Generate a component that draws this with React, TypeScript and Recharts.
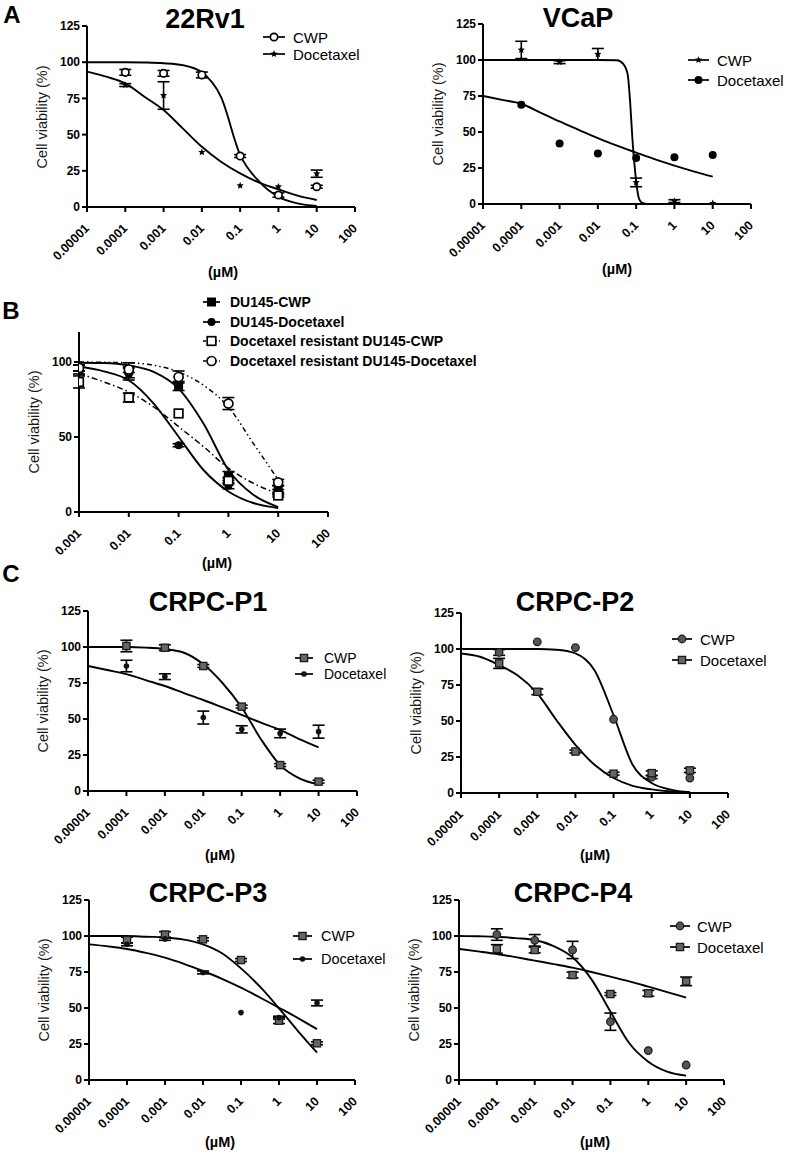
import React from "react";
import { ComposedChart, Line, Scatter, XAxis, YAxis, ErrorBar } from "recharts";

const FONT = '"Liberation Sans", Arial, Helvetica, sans-serif';

// doses (µM)
const doses = [0.0001, 0.001, 0.01, 0.1, 1, 10];
const dosesB = [0.001, 0.01, 0.1, 1, 10];
const fitX = [0.00001, 0.0000316, 0.0001, 0.000316, 0.001, 0.00316, 0.01, 0.0316, 0.1, 0.316, 1, 3.16, 10];
const fitXB = [0.001, 0.00316, 0.01, 0.0316, 0.1, 0.316, 1, 3.16, 10];
const vcapCwpFitX = [0.00001, 0.0001, 0.001, 0.01, 0.0316, 0.047, 0.06, 0.07, 0.08, 0.09, 0.1, 0.115, 0.14, 0.2, 1, 10];

const xTicks = [0.00001, 0.0001, 0.001, 0.01, 0.1, 1, 10, 100];
const xTickLabels = ["0.00001", "0.0001", "0.001", "0.01", "0.1", "1", "10", "100"];
const xTicksB = [0.001, 0.01, 0.1, 1, 10, 100];
const yTicks = [0, 25, 50, 75, 100, 125];
const yTicksB = [0, 50, 100];

// A - 22Rv1
const rv1CwpPts = [93, 92.3, 91.2, 35.2, 8.3, 14];
const rv1CwpErr = [2, 2, 2, 1, 1.5, 1];
const rv1DocPts = [84.2, 77, 37.8, 14.7, 14, 23];
const rv1DocErr = [1, 9.5, 0, 0, 0, 2.5];
const rv1CwpFit = [100, 100, 100, 99.8, 99.3, 98, 93, 76, 36, 17.5, 7, 2.5, 0.7];
const rv1DocFit = [93.5, 90, 85.4, 76.2, 67, 54.3, 41.6, 31.3, 23.2, 16.8, 12.2, 7.8, 4.8];

// A - VCaP
const vcapCwpPts = [107, 98.5, 104, 15, 2, 0.5];
const vcapCwpErr = [6, 1, 4, 3, 1, 0];
const vcapDocPts = [69, 42, 35, 32, 32.5, 34];
const vcapCwpFit = [100, 100, 100, 100, 99.8, 97, 90, 70, 45, 28, 16, 5, 1, 0, 0, 0];
const vcapDocFit = [75, 72.3, 69.6, 63.5, 57.3, 51.5, 45.7, 40.5, 35.7, 31, 26.7, 22.7, 19];

// B - DU145
const duCwpPts = [95, 94.5, 84, 24, 14.4];
const duCwpErr = [3, 5, 3, 3, 3];
const duDocPts = [96, 92, 44.5, 17.5, 14];
const duDocErr = [2, 4, 1, 2, 1];
const resCwpPts = [86.7, 76.3, 65.7, 20.8, 11];
const resCwpErr = [4, 3, 0, 2, 1];
const resDocPts = [96, 95, 90, 72.3, 19.7];
const resDocErr = [2, 2, 4, 4, 2];
const duCwpFit = [99.5, 99.3, 97.8, 93.4, 82.3, 59, 28, 11.5, 3.3];
const duDocFit = [97, 93.8, 87.8, 72.3, 50.2, 28, 13.7, 6, 2.7];
const resCwpFit = [92.3, 86.7, 80, 70, 56.9, 43.6, 29.2, 19.2, 12.2];
const resDocFit = [100, 99.8, 99.5, 97.8, 93.4, 84.5, 70, 45.8, 21.5];

// C - CRPC-P1
const p1CwpPts = [100.7, 99.5, 86.8, 58.6, 18, 6.5];
const p1CwpErr = [4, 2, 1, 1, 1, 1];
const p1DocPts = [86.8, 79.4, 51, 42.8, 40, 41.2];
const p1DocErr = [4, 2, 4.5, 2.5, 3, 4.5];
const p1CwpFit = [100, 100, 100, 99.6, 98.6, 96, 88, 75, 58, 36, 18, 8.8, 4.6];
const p1DocFit = [86.8, 84, 81.2, 77, 72.9, 68, 63.2, 58, 52.8, 47.5, 42.4, 36, 30.3];

// C - CRPC-P2
const p2CwpPts = [97.6, 105, 101, 51.2, 11, 10.4];
const p2CwpErr = [2, 0, 0, 0, 1, 0];
const p2DocPts = [90, 70.3, 28.8, 13.4, 13.8, 15.7];
const p2DocErr = [3.5, 2, 1, 1, 1.5, 1.5];
const p2CwpFit = [100, 100, 100, 100, 100, 99.5, 97, 85.3, 54, 19.6, 6.9, 2.3, 0.5];
const p2DocFit = [96.9, 94.6, 88.8, 81.4, 69.2, 50.7, 33.4, 19.6, 10.4, 5, 2.5, 1, 0.5];

// C - CRPC-P3
const p3CwpPts = [97.2, 101, 97.7, 83.3, 41.2, 25.5];
const p3CwpErr = [2, 2, 1, 1, 2, 1];
const p3DocPts = [94.2, 98, 74.7, 46.8, 43.3, 53.5];
const p3DocErr = [1, 1, 1, 0, 1, 2];
const p3CwpFit = [100, 100, 100, 99.5, 99, 97.5, 94.2, 88, 77.5, 64.8, 49.8, 34, 19];
const p3DocFit = [94.2, 92.8, 91, 88.3, 85, 80.7, 75.7, 70.3, 64.1, 57.3, 50.2, 43, 35.3];

// C - CRPC-P4
const p4CwpPts = [101, 97, 90.3, 40.5, 20.4, 10.4];
const p4CwpErr = [4, 4, 6, 6, 0, 0];
const p4DocPts = [91, 90.3, 72.9, 59.7, 60.2, 68.5];
const p4DocErr = [3, 2, 2, 1, 2, 3];
const p4CwpFit = [100, 99.8, 99.5, 98.5, 97.2, 93, 85.2, 69.9, 47.5, 25.5, 12.7, 5.8, 3];
const p4DocFit = [91, 89.3, 87.5, 85.3, 82.9, 80.5, 78, 75, 71.8, 68.5, 64.8, 61, 57.2];

type Pt = { x: number; y: number; err: number };
const toPts = (xs: number[], ys: number[], errs?: number[]): Pt[] =>
  xs.map((x, i) => ({ x, y: ys[i], err: errs ? errs[i] : 0 }));

function starPath(cx: number, cy: number, r: number) {
  let d = "";
  for (let i = 0; i < 10; i++) {
    const rr = i % 2 === 0 ? r : r * 0.45;
    const a = -Math.PI / 2 + (i * Math.PI) / 5;
    d += (i === 0 ? "M" : "L") + (cx + rr * Math.cos(a)).toFixed(2) + "," + (cy + rr * Math.sin(a)).toFixed(2);
  }
  return d + "Z";
}

function Marker({ kind, cx, cy }: { kind: string; cx: number; cy: number }) {
  if (cx == null || cy == null) return null;
  switch (kind) {
    case "openCircle":
      return <circle cx={cx} cy={cy} r={3.7} fill="#fff" stroke="#000" strokeWidth={1.7} />;
    case "bigOpenCircle":
      return <circle cx={cx} cy={cy} r={4.5} fill="#fff" stroke="#000" strokeWidth={1.7} />;
    case "filledCircle":
      return <circle cx={cx} cy={cy} r={4} fill="#000" />;
    case "grayCircle":
      return <circle cx={cx} cy={cy} r={3.8} fill="#555" stroke="#1a1a1a" strokeWidth={1.2} />;
    case "smallDot":
      return <circle cx={cx} cy={cy} r={2.8} fill="#111" />;
    case "filledSquare":
      return <rect x={cx - 4.5} y={cy - 4.5} width={9} height={9} fill="#000" />;
    case "openSquare":
      return <rect x={cx - 4.3} y={cy - 4.3} width={8.6} height={8.6} fill="#fff" stroke="#000" strokeWidth={1.7} />;
    case "graySquare":
      return <rect x={cx - 3.6} y={cy - 3.6} width={7.2} height={7.2} fill="#666" stroke="#1a1a1a" strokeWidth={1.3} />;
    case "star":
      return <path d={starPath(cx, cy, 3.8)} fill="#000" />;
    default:
      return null;
  }
}

type Series = { name: string; fit: { x: number; y: number }[]; pts: Pt[]; marker: string; dash?: string };

type PanelCfg = {
  left: number; top: number; width: number; height: number;
  x0: number; x1: number; y0: number; y1: number;
  ticks: number[]; yTicks: number[]; yMax: number;
  title?: string; titleX?: number; titleY?: number;
  unitX: number; unitY: number;
  legend: { x: number; y: number; gap: number; len: number; textX: number; size: number; bold?: boolean };
  series: Series[];
};

const fit = (xs: number[], ys: number[]) => xs.map((x, i) => ({ x, y: ys[i] }));

const panels: PanelCfg[] = [
  {
    left: 0, top: 0, width: 400, height: 300, x0: 87, x1: 355, y0: 26, y1: 207,
    ticks: xTicks, yTicks, yMax: 125, title: "22Rv1", titleX: 205, titleY: 19, unitX: 223, unitY: 272,
    legend: { x: 263, y: 37, gap: 16.5, len: 22, textX: 293, size: 15 },
    series: [
      { name: "CWP", fit: fit(fitX, rv1CwpFit), pts: toPts(doses, rv1CwpPts, rv1CwpErr), marker: "openCircle" },
      { name: "Docetaxel", fit: fit(fitX, rv1DocFit), pts: toPts(doses, rv1DocPts, rv1DocErr), marker: "star" },
    ],
  },
  {
    left: 390, top: 0, width: 397, height: 300, x0: 483, x1: 751, y0: 24, y1: 204,
    ticks: xTicks, yTicks, yMax: 125, title: "VCaP", titleX: 578, titleY: 18, unitX: 617, unitY: 269,
    legend: { x: 688, y: 60, gap: 20, len: 21, textX: 717, size: 15 },
    series: [
      { name: "CWP", fit: fit(vcapCwpFitX, vcapCwpFit), pts: toPts(doses, vcapCwpPts, vcapCwpErr), marker: "star" },
      { name: "Docetaxel", fit: fit(fitX, vcapDocFit), pts: toPts(doses, vcapDocPts), marker: "filledCircle" },
    ],
  },
  {
    left: 0, top: 290, width: 560, height: 290, x0: 79, x1: 328, y0: 332, y1: 512,
    ticks: xTicksB, yTicks: yTicksB, yMax: 120, unitX: 217, unitY: 563,
    legend: { x: 203, y: 302, gap: 19.5, len: 17, textX: 230, size: 14, bold: true },
    series: [
      { name: "DU145-CWP", fit: fit(fitXB, duCwpFit), pts: toPts(dosesB, duCwpPts, duCwpErr), marker: "filledSquare" },
      { name: "DU145-Docetaxel", fit: fit(fitXB, duDocFit), pts: toPts(dosesB, duDocPts, duDocErr), marker: "filledCircle" },
      { name: "Docetaxel resistant DU145-CWP", fit: fit(fitXB, resCwpFit), pts: toPts(dosesB, resCwpPts, resCwpErr), marker: "openSquare", dash: "6 3 1.5 3" },
      { name: "Docetaxel resistant DU145-Docetaxel", fit: fit(fitXB, resDocFit), pts: toPts(dosesB, resDocPts, resDocErr), marker: "bigOpenCircle", dash: "5 3 1.5 3 1.5 3" },
    ],
  },
  {
    left: 0, top: 560, width: 400, height: 290, x0: 88, x1: 357, y0: 611, y1: 791,
    ticks: xTicks, yTicks, yMax: 125, title: "CRPC-P1", titleX: 208, titleY: 602, unitX: 220, unitY: 855,
    legend: { x: 295, y: 658, gap: 15.5, len: 18, textX: 324, size: 14 },
    series: [
      { name: "CWP", fit: fit(fitX, p1CwpFit), pts: toPts(doses, p1CwpPts, p1CwpErr), marker: "graySquare" },
      { name: "Docetaxel", fit: fit(fitX, p1DocFit), pts: toPts(doses, p1DocPts, p1DocErr), marker: "smallDot" },
    ],
  },
  {
    left: 390, top: 560, width: 397, height: 290, x0: 461, x1: 728, y0: 613, y1: 793,
    ticks: xTicks, yTicks, yMax: 125, title: "CRPC-P2", titleX: 575, titleY: 602, unitX: 595, unitY: 855,
    legend: { x: 672, y: 639, gap: 21, len: 20, textX: 700, size: 15 },
    series: [
      { name: "CWP", fit: fit(fitX, p2CwpFit), pts: toPts(doses, p2CwpPts, p2CwpErr), marker: "grayCircle" },
      { name: "Docetaxel", fit: fit(fitX, p2DocFit), pts: toPts(doses, p2DocPts, p2DocErr), marker: "graySquare" },
    ],
  },
  {
    left: 0, top: 850, width: 400, height: 304, x0: 89, x1: 355, y0: 900, y1: 1080,
    ticks: xTicks, yTicks, yMax: 125, title: "CRPC-P3", titleX: 208, titleY: 893, unitX: 220, unitY: 1142,
    legend: { x: 293, y: 936, gap: 23, len: 19, textX: 321, size: 14.5 },
    series: [
      { name: "CWP", fit: fit(fitX, p3CwpFit), pts: toPts(doses, p3CwpPts, p3CwpErr), marker: "graySquare" },
      { name: "Docetaxel", fit: fit(fitX, p3DocFit), pts: toPts(doses, p3DocPts, p3DocErr), marker: "smallDot" },
    ],
  },
  {
    left: 390, top: 850, width: 397, height: 304, x0: 459, x1: 724, y0: 900, y1: 1080,
    ticks: xTicks, yTicks, yMax: 125, title: "CRPC-P4", titleX: 573, titleY: 893, unitX: 595, unitY: 1142,
    legend: { x: 670, y: 926, gap: 21, len: 20, textX: 697, size: 15 },
    series: [
      { name: "CWP", fit: fit(fitX, p4CwpFit), pts: toPts(doses, p4CwpPts, p4CwpErr), marker: "grayCircle" },
      { name: "Docetaxel", fit: fit(fitX, p4DocFit), pts: toPts(doses, p4DocPts, p4DocErr), marker: "graySquare" },
    ],
  },
];

const RotTick = (props: any) => {
  const { x, y, payload } = props;
  const px = x + 3;
  const py = y + 15;
  const i = xTicks.indexOf(payload.value);
  const label = i >= 0 ? xTickLabels[i] : String(payload.value);
  return (
    <text x={px} y={py} transform={`rotate(-45 ${px} ${py})`} textAnchor="end"
      fontSize={12.5} fontWeight="bold" fill="#000" fontFamily={FONT}>
      {label}
    </text>
  );
};

const axisStyle = { stroke: "#000", strokeWidth: 2 };

function Text({ x, y, size, bold, rotate, color, children }: any) {
  return (
    <div style={{
      position: "absolute", left: x, top: y, whiteSpace: "nowrap", lineHeight: 1,
      fontSize: size, fontWeight: bold ? "bold" : "normal", color: color || "#000",
      transform: `translate(-50%, -50%)${rotate ? " rotate(-90deg)" : ""}`,
    }}>{children}</div>
  );
}

function Panel({ p }: { p: PanelCfg }) {
  const xh = 70;
  const lg = p.legend;
  return (
    <>
      <div style={{ position: "absolute", left: p.left, top: p.top }}>
        <ComposedChart width={p.width} height={p.height}
          margin={{ top: p.y0 - p.top, right: p.left + p.width - p.x1, bottom: p.top + p.height - p.y1 - xh, left: 0 }}>
          <XAxis dataKey="x" type="number" scale="log" domain={[p.ticks[0], p.ticks[p.ticks.length - 1]]}
            ticks={p.ticks} interval={0} allowDataOverflow height={xh} tickSize={5}
            axisLine={axisStyle} tickLine={axisStyle} tick={<RotTick />} />
          <YAxis type="number" domain={[0, p.yMax]} ticks={p.yTicks} interval={0} allowDataOverflow
            width={p.x0 - p.left} tickSize={5} tickMargin={2} axisLine={axisStyle} tickLine={axisStyle}
            tick={{ fill: "#000", fontSize: 12, fontWeight: "bold", fontFamily: FONT }} />
          {p.series.map((s) => (
            <Line key={"l" + s.name} data={s.fit} dataKey="y" type="monotone" stroke="#000"
              strokeWidth={s.dash ? 1.5 : 1.9}
              strokeDasharray={s.dash} dot={false} activeDot={false} isAnimationActive={false} legendType="none" />
          ))}
          {p.series.map((s) => (
            <Scatter key={"s" + s.name} data={s.pts} dataKey="y" isAnimationActive={false} legendType="none"
              shape={(q: any) => <Marker kind={s.marker} cx={q.cx} cy={q.cy} />}>
              <ErrorBar dataKey="err" direction="y" width={6} stroke="#000" strokeWidth={1.6} />
            </Scatter>
          ))}
        </ComposedChart>
      </div>
      {p.title && <Text x={p.titleX} y={p.titleY} size={27} bold>{p.title}</Text>}
      <div style={{ position: "absolute", left: p.x0 - 45, top: (p.y0 + p.y1) / 2 }}>
        <Text x={0} y={0} size={14.5} color="#1a1a1a" rotate>Cell viability (%)</Text>
      </div>
      <Text x={p.unitX} y={p.unitY} size={14.5} bold>(µM)</Text>
      {p.series.map((s, i) => {
        const cy = lg.y + i * lg.gap;
        return (
          <React.Fragment key={"g" + s.name}>
            <svg style={{ position: "absolute", left: lg.x, top: cy - 7 }} width={lg.len} height={14}>
              <line x1={0} y1={7} x2={lg.len} y2={7} stroke="#000" strokeWidth={1.7} strokeDasharray={s.dash ? "3 2 1 2" : undefined} />
              <Marker kind={s.marker} cx={lg.len / 2} cy={7} />
            </svg>
            <div style={{
              position: "absolute", left: lg.textX, top: cy, transform: "translateY(-50%)", lineHeight: 1,
              fontSize: lg.size, fontWeight: lg.bold ? "bold" : "normal", whiteSpace: "nowrap", color: "#000",
            }}>{s.name}</div>
          </React.Fragment>
        );
      })}
    </>
  );
}

export default function App() {
  return (
    <div style={{ position: "absolute", left: 0, top: 0, width: 787, height: 1154, background: "#fff", fontFamily: FONT, overflow: "hidden" }}>
      {panels.map((p, i) => <Panel key={i} p={p} />)}
      <Text x={12} y={15} size={24} bold>A</Text>
      <Text x={11} y={311} size={24} bold>B</Text>
      <Text x={11} y={574} size={24} bold>C</Text>
    </div>
  );
}
